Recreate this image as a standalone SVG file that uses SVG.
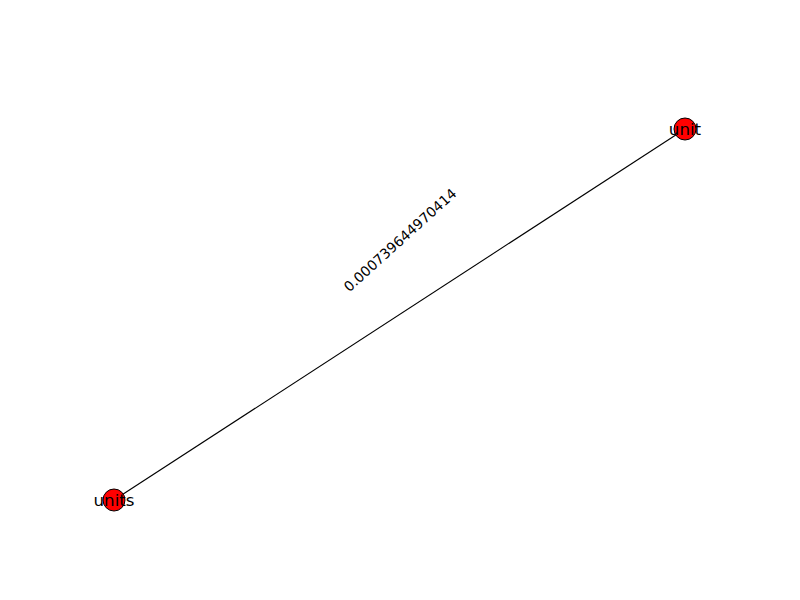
<svg xmlns="http://www.w3.org/2000/svg" width="800" height="600" viewBox="0 0 800 600">
<style>
.node{fill:#ff0000;stroke:#000;stroke-width:1}
.nl{font-family:"DejaVu Sans",sans-serif;font-size:16.7px;text-anchor:middle;dominant-baseline:central}
.el{font-family:"DejaVu Sans",sans-serif;font-size:13.9px;text-anchor:middle;dominant-baseline:central}
.edge{stroke:#000;stroke-width:1.1;fill:none}
</style>
<rect width="800" height="600" fill="#fff"/>
<g id="edges">
<line class="edge" x1="114" y1="500" x2="685" y2="129"/>
<text class="el" transform="translate(400,240) rotate(-42)">0.000739644970414</text>
</g>
<g id="node-unit">
<circle class="node" cx="685" cy="129" r="11"/>
<text class="nl" x="685" y="129">unit</text>
</g>
<g id="node-units">
<circle class="node" cx="114" cy="500" r="11"/>
<text class="nl" x="114" y="500">units</text>
</g>
</svg>
